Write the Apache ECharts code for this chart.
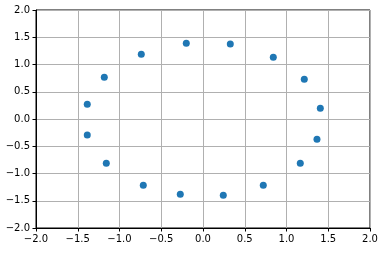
<!DOCTYPE html>
<html><head><meta charset="utf-8">
<script src="https://cdn.jsdelivr.net/npm/echarts@6/dist/echarts.min.js"></script>
<style>html,body{margin:0;padding:0;background:#fff}#c{width:388px;height:254px}</style>
</head><body><div id="c"></div>
<script>
const xValues = [-1.386, -1.182, -0.739, -0.200, 0.327, 0.842, 1.213, 1.405, 1.365, 1.165, 0.722, 0.243, -0.272, -0.715, -1.158, -1.386];
const yValues = [0.270, 0.765, 1.187, 1.389, 1.376, 1.132, 0.728, 0.196, -0.372, -0.813, -1.217, -1.400, -1.382, -1.217, -0.813, -0.294];
const xTicks = [-2.0, -1.5, -1.0, -0.5, 0.0, 0.5, 1.0, 1.5, 2.0];
const yTicks = [-2.0, -1.5, -1.0, -0.5, 0.0, 0.5, 1.0, 1.5, 2.0];

const fmt = v => v.toFixed(1).replace('-', '\u2212');
const points = xValues.map((x, i) => [x, yValues[i]]);
const chart = echarts.init(document.getElementById('c'), null, {renderer: 'canvas'});
const axisCommon = {
  type: 'value', interval: 0.5,
  axisLine: {show: true, onZero: false, lineStyle: {color: '#000', width: 1}},
  axisTick: {show: true, inside: false, length: 3.5, lineStyle: {color: '#000'}},
  splitLine: {show: true, lineStyle: {color: '#b0b0b0', width: 1}},
  axisLabel: {color: '#000', fontSize: 10, fontFamily: 'DejaVu Sans', margin: 6, formatter: fmt}
};
chart.setOption({
  animation: false,
  grid: {left: 36, right: 18, top: 10, bottom: 26, show: true, borderColor: '#000', borderWidth: 1},
  xAxis: Object.assign({}, axisCommon, {min: xTicks[0], max: xTicks[xTicks.length - 1]}),
  yAxis: Object.assign({}, axisCommon, {min: yTicks[0], max: yTicks[yTicks.length - 1]}),
  series: [{type: 'scatter', data: points, symbolSize: 7, itemStyle: {color: '#1f77b4', opacity: 1}}]
});
</script></body></html>
